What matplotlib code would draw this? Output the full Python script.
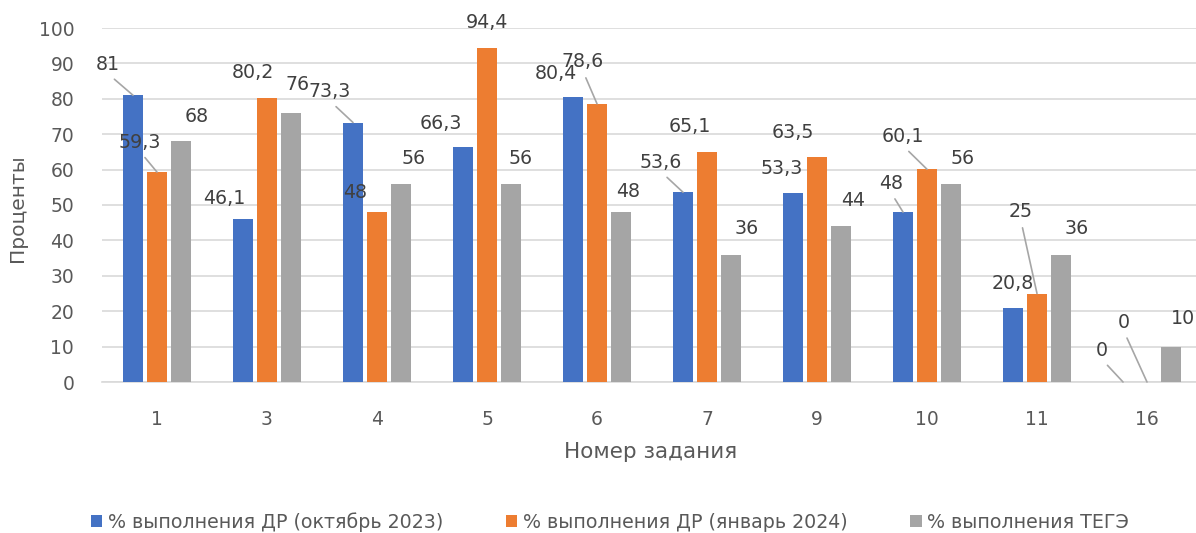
import numpy as np
import matplotlib
matplotlib.use("Agg")
import matplotlib.pyplot as plt

tasks = ["1", "3", "4", "5", "6", "7", "9", "10", "11", "16"]
oct_2023 = [81, 46.1, 73.3, 66.3, 80.4, 53.6, 53.3, 48, 20.8, 0]
jan_2024 = [59.3, 80.2, 48, 94.4, 78.6, 65.1, 63.5, 60.1, 25, 0]
tege = [68, 76, 56, 56, 48, 36, 44, 56, 36, 10]

names = ["% выполнения ДР (октябрь 2023)", "% выполнения ДР (январь 2024)", "% выполнения ТЕГЭ"]
colors = ["#4472C4", "#ED7D31", "#A5A5A5"]

# label offsets in pixels (dx, dy) from bar top, and which ones get a leader line
offs = [
    [(-25, 31), (-19, 20), (-23, 31), (-22, 24), (-17, 24), (-22, 30), (-11, 25), (-12, 29), (0, 25), (-21, 32)],
    [(-17, 30), (-14, 26), (-22, 20), (0, 25), (-14, 42), (-17, 25), (-24, 25), (-24, 33), (-16, 82), (-23, 60)],
    [(16, 25), (7, 28), (13, 25), (10, 25), (7, 21), (16, 26), (12, 26), (12, 25), (16, 26), (12, 28)],
]
leaders = [
    [1, 0, 1, 0, 0, 1, 0, 1, 0, 1],
    [1, 0, 0, 0, 1, 0, 0, 1, 1, 1],
    [0, 0, 0, 0, 0, 0, 0, 0, 0, 0],
]

def fmt(v):
    return ("%g" % v).replace(".", ",")

fig = plt.figure(figsize=(11.96, 5.33), dpi=100)
ax = fig.add_axes([102 / 1196, 151 / 533, 1100 / 1196, 354 / 533])

x = np.arange(len(tasks))
step = 0.218
w = 0.175
series = [oct_2023, jan_2024, tege]
for i, vals in enumerate(series):
    xs = x + (i - 1) * step
    ax.bar(xs, vals, width=w, color=colors[i], label=names[i], zorder=3)
    for j, v in enumerate(vals):
        dx, dy = offs[i][j]
        ap = None
        if leaders[i][j]:
            ap = dict(arrowstyle="-", color="#A6A6A6", lw=1.2, shrinkA=3, shrinkB=0,
                      relpos=(0.5, 0))
        ax.annotate(fmt(v), xy=(xs[j], v), xytext=(dx, dy), textcoords="offset pixels",
                    ha="center", va="center", fontsize=13.7, color="#404040",
                    arrowprops=ap, zorder=4)

ax.set_xlim(-0.5, len(tasks) - 0.5)
ax.set_ylim(0, 100)
ax.set_yticks(range(0, 101, 10))
ax.set_xticks(x)
ax.set_xticklabels(tasks)
ax.tick_params(length=0, labelsize=13.5, labelcolor="#595959")
ax.tick_params(axis="y", pad=20)
ax.tick_params(axis="x", pad=20)
ax.grid(axis="y", color="#D9D9D9", lw=1.2, zorder=0)
for s in ["top", "right", "left"]:
    ax.spines[s].set_visible(False)
ax.spines["bottom"].set_color("#D9D9D9")
ax.spines["bottom"].set_linewidth(1.2)
ax.spines["bottom"].set_zorder(1)

fig.text(18 / 1196, 1 - 208 / 533, "Проценты", rotation=90, ha="center", va="center",
         fontsize=14.5, color="#595959")
fig.text(651 / 1196, 1 - 452 / 533, "Номер задания", ha="center", va="center",
         fontsize=15.5, color="#595959")

fig.legend(loc="center", bbox_to_anchor=(0.51, 1 - 522 / 533), ncol=3, frameon=False,
           fontsize=13.7, handlelength=0.6, handleheight=0.6, handletextpad=0.3,
           columnspacing=3.3, labelcolor="#595959")

fig.savefig("out.png", dpi=100)
